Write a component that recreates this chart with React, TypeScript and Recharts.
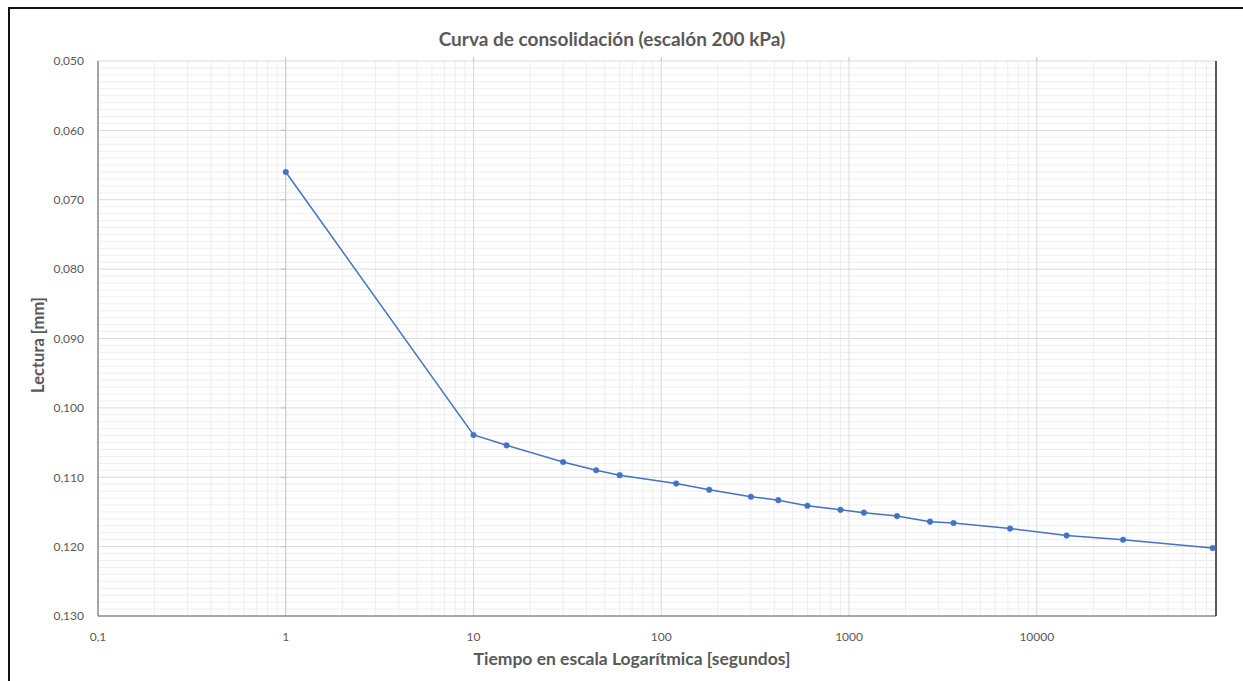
import React from 'react';
import { LineChart, Line, XAxis, YAxis, CartesianGrid, ReferenceLine } from 'recharts';

// Elapsed time since load application [s]
const tiempos = [1, 10, 15, 30, 45, 60, 120, 180, 300, 420, 600, 900, 1200, 1800, 2700, 3600, 7200, 14400, 28800, 86400];
// Dial reading [mm]
const lecturas = [0.066, 0.1039, 0.1054, 0.1078, 0.109, 0.1097, 0.1109, 0.1118, 0.1128, 0.1133, 0.1141, 0.1147, 0.1151, 0.1156, 0.1164, 0.1166, 0.1174, 0.1184, 0.119, 0.1202];

const xTicks = [0.1, 1, 10, 100, 1000, 10000];
const yTicks = [0.05, 0.06, 0.07, 0.08, 0.09, 0.1, 0.11, 0.12, 0.13];

const X_MIN = 0.1;
const X_MAX = 90000;
const Y_MIN = 0.05;
const Y_MAX = 0.13;

const data = tiempos.map((t, i) => ({ t, lectura: lecturas[i] }));

// Log-decade gridline values
const decades = [0.1, 1, 10, 100, 1000, 10000];
const minorX: number[] = [];
decades.forEach((d) => {
  for (let k = 2; k <= 9; k++) {
    const v = k * d;
    if (v <= X_MAX) minorX.push(v);
  }
});
const majorX = [10, 100, 1000, 10000];
const minorY: number[] = [];
for (let i = 51; i < 130; i++) {
  if (i % 10 !== 0) minorY.push(i / 1000);
}
const majorY = yTicks.slice(1, -1);

const FONT = 'Lato, "Open Sans", sans-serif';
const TEXT = '#595959';

const fmtX = (v: number) => (v < 1 ? String(v).replace('.', ',') : String(Math.round(v)));
const fmtY = (v: number) => v.toFixed(3).replace('.', ',');

// Map a value through the axis scale handed to the grid generators;
// falls back to the plot offset when no callable scale is provided.
const mapX = (args: any, v: number) => {
  const s = args?.xAxis?.scale;
  if (typeof s === 'function') return s(v);
  if (s && typeof s.map === 'function') return s.map(v);
  const o = args.offset;
  return o.left + ((Math.log10(v) - Math.log10(X_MIN)) / (Math.log10(X_MAX) - Math.log10(X_MIN))) * o.width;
};
const mapY = (args: any, v: number) => {
  const s = args?.yAxis?.scale;
  if (typeof s === 'function') return s(v);
  if (s && typeof s.map === 'function') return s.map(v);
  const o = args.offset;
  return o.top + ((v - Y_MIN) / (Y_MAX - Y_MIN)) * o.height;
};

export default function App() {
  const tickLen = 0.00058; // short outward ticks above the plot
  const stubLen = 0.027; // fraction of a decade for the stubs left of t = 1
  return (
    <div style={{ position: 'fixed', left: 0, top: 0, width: 1243, height: 681, background: '#fff' }}>
      <div
        style={{
          position: 'absolute',
          left: 8,
          top: 7,
          width: 1235,
          height: 674,
          borderLeft: '2px solid #111',
          borderTop: '2px solid #111',
          boxSizing: 'border-box',
        }}
      />
      <div
        style={{
          position: 'absolute',
          left: 612,
          top: 39,
          transform: 'translate(-50%, -50%)',
          whiteSpace: 'nowrap',
          fontFamily: FONT,
          fontWeight: 700,
          fontSize: 19,
          color: TEXT,
          lineHeight: '26px',
        }}
      >
        Curva de consolidación (escalón 200 kPa)
      </div>
      <div
        style={{
          position: 'absolute',
          left: 632,
          top: 659,
          transform: 'translate(-50%, -50%)',
          whiteSpace: 'nowrap',
          fontFamily: FONT,
          fontWeight: 700,
          fontSize: 17.5,
          color: TEXT,
          lineHeight: '22px',
        }}
      >
        Tiempo en escala Logarítmica [segundos]
      </div>
      <div
        style={{
          position: 'absolute',
          left: 38,
          top: 345,
          transform: 'translate(-50%, -50%) rotate(-90deg)',
          whiteSpace: 'nowrap',
          fontFamily: FONT,
          fontWeight: 700,
          fontSize: 16.5,
          color: TEXT,
          lineHeight: '22px',
        }}
      >
        Lectura [mm]
      </div>
      <div style={{ position: 'absolute', left: 0, top: 0 }}>
        <LineChart width={1243} height={681} data={data} margin={{ top: 61, right: 27, bottom: 35, left: 20 }}>
          <CartesianGrid
            stroke="#eeeeee"
            strokeWidth={1}
            horizontalCoordinatesGenerator={(args: any) => minorY.map((v) => mapY(args, v))}
            verticalCoordinatesGenerator={(args: any) => minorX.map((v) => mapX(args, v))}
          />
          <CartesianGrid
            stroke="#d9d9d9"
            strokeWidth={1}
            horizontalCoordinatesGenerator={(args: any) => majorY.map((v) => mapY(args, v))}
            verticalCoordinatesGenerator={(args: any) => majorX.map((v) => mapX(args, v))}
          />
          <CartesianGrid
            stroke="#bfbfbf"
            strokeWidth={1}
            horizontal={false}
            verticalCoordinatesGenerator={(args: any) => [mapX(args, 1)]}
          />
          <XAxis
            dataKey="t"
            type="number"
            scale="log"
            domain={[X_MIN, X_MAX]}
            allowDataOverflow
            ticks={xTicks}
            interval={0}
            tickFormatter={fmtX}
            axisLine={false}
            tickLine={false}
            tickSize={6}
            tickMargin={10}
            height={30}
            tick={{ fill: TEXT, fontSize: 12, fontFamily: FONT }}
          />
          <YAxis
            type="number"
            reversed
            domain={[Y_MIN, Y_MAX]}
            allowDataOverflow
            ticks={yTicks}
            interval={0}
            tickFormatter={fmtY}
            axisLine={false}
            tickLine={false}
            tickSize={6}
            tickMargin={8}
            width={78}
            tick={{ fill: TEXT, fontSize: 12, fontFamily: FONT }}
          />
          {/* plot frame */}
          <ReferenceLine y={Y_MIN} stroke="#d9d9d9" strokeWidth={1} ifOverflow="visible" />
          <ReferenceLine y={Y_MAX} stroke="#8a8a8a" strokeWidth={1.5} ifOverflow="visible" />
          <ReferenceLine x={X_MIN} stroke="#8a8a8a" strokeWidth={1.5} ifOverflow="visible" />
          <ReferenceLine x={X_MAX} stroke="#262626" strokeWidth={1.5} ifOverflow="visible" />
          {/* outward ticks on the time axis */}
          {[1, ...majorX].map((v) => (
            <ReferenceLine
              key={'tx' + v}
              segment={[
                { x: v, y: Y_MIN - tickLen },
                { x: v, y: Y_MIN },
              ]}
              stroke="#bfbfbf"
              strokeWidth={1}
              ifOverflow="visible"
            />
          ))}
          {/* reading-axis stubs at t = 1 */}
          {majorY.map((v) => (
            <ReferenceLine
              key={'ty' + v}
              segment={[
                { x: Math.pow(10, -stubLen), y: v },
                { x: 1, y: v },
              ]}
              stroke="#bfbfbf"
              strokeWidth={1}
              ifOverflow="visible"
            />
          ))}
          <Line
            type="linear"
            dataKey="lectura"
            stroke="#4472C4"
            strokeWidth={1.5}
            dot={{ r: 2.8, fill: '#4472C4', stroke: '#4472C4', strokeWidth: 0.5 }}
            activeDot={false}
            isAnimationActive={false}
          />
        </LineChart>
      </div>
    </div>
  );
}
